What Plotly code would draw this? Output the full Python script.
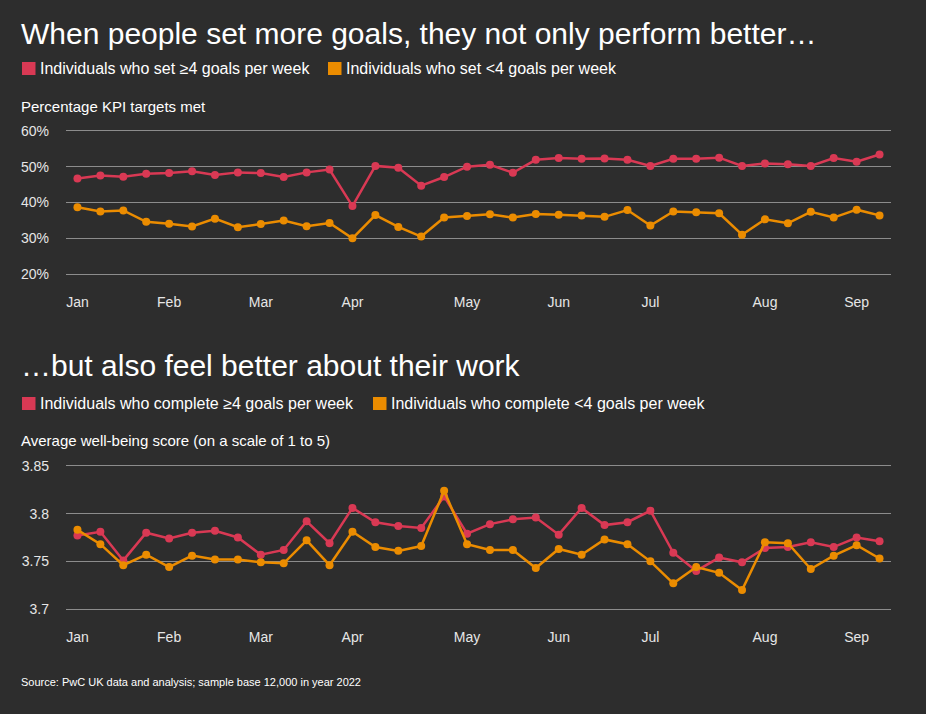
import plotly.graph_objects as go

# weekly points, Jan -> early Sep 2022
weeks = list(range(36))
month_ticks = [0, 4, 8, 12, 17, 21, 25, 30, 34]
month_labels = ["Jan", "Feb", "Mar", "Apr", "May", "Jun", "Jul", "Aug", "Sep"]

kpi_high = [46.7, 47.5, 47.2, 48.0, 48.2, 48.7, 47.7, 48.4, 48.2, 47.1, 48.4, 49.2,
            39.0, 50.2, 49.7, 44.7, 47.1, 50.0, 50.5, 48.3, 51.9, 52.4, 52.2, 52.3,
            51.9, 50.2, 52.2, 52.2, 52.5, 50.2, 50.9, 50.7, 50.2, 52.4, 51.4, 53.4]
kpi_low = [38.7, 37.5, 37.8, 34.6, 34.1, 33.3, 35.5, 33.1, 34.0, 35.0, 33.4, 34.3,
           30.0, 36.5, 33.2, 30.5, 35.8, 36.2, 36.7, 35.8, 36.8, 36.6, 36.4, 36.0,
           37.9, 33.6, 37.5, 37.3, 37.0, 31.0, 35.3, 34.2, 37.4, 35.8, 38.0, 36.4]

wb_high = [3.777, 3.781, 3.751, 3.780, 3.774, 3.780, 3.782, 3.775, 3.757, 3.762, 3.792, 3.769,
           3.806, 3.791, 3.787, 3.785, 3.818, 3.779, 3.789, 3.794, 3.796, 3.778, 3.806, 3.788,
           3.791, 3.803, 3.759, 3.740, 3.754, 3.749, 3.764, 3.765, 3.770, 3.765, 3.775, 3.771]
wb_low = [3.783, 3.768, 3.746, 3.757, 3.744, 3.756, 3.752, 3.752, 3.749, 3.748, 3.772, 3.746,
          3.781, 3.765, 3.761, 3.766, 3.824, 3.768, 3.762, 3.762, 3.743, 3.763, 3.757, 3.773,
          3.768, 3.750, 3.727, 3.744, 3.738, 3.720, 3.770, 3.769, 3.742, 3.756, 3.767, 3.753]

kpi_ticks = [20, 30, 40, 50, 60]
kpi_ticktext = ["20%", "30%", "40%", "50%", "60%"]
wb_ticks = [3.7, 3.75, 3.8, 3.85]
wb_ticktext = ["3.7", "3.75", "3.8", "3.85"]

RED = "#d93954"
ORANGE = "#eb8c00"
BG = "#2d2d2d"
GRID = "#8c8c8c"
W, H = 926, 714

def px(x):
    return x / W

def py(y):
    return 1 - y / H

fig = go.Figure()

for xa, ya, hi, lo in [("x", "y", kpi_high, kpi_low), ("x2", "y2", wb_high, wb_low)]:
    fig.add_trace(go.Scatter(x=weeks, y=hi, xaxis=xa, yaxis=ya, mode="lines+markers",
                             line=dict(color=RED, width=2.5), marker=dict(size=8, color=RED),
                             cliponaxis=False, showlegend=False))
    fig.add_trace(go.Scatter(x=weeks, y=lo, xaxis=xa, yaxis=ya, mode="lines+markers",
                             line=dict(color=ORANGE, width=2.5), marker=dict(size=8, color=ORANGE),
                             cliponaxis=False, showlegend=False))

xdom = [px(66), px(891)]
xcommon = dict(domain=xdom, range=[-0.5, 35.5], tickmode="array", tickvals=month_ticks,
               ticktext=month_labels, showgrid=False, zeroline=False, showline=False,
               ticks="", ticklabelstandoff=16, tickfont=dict(size=14, color="#e6e6e6"))
ycommon = dict(showgrid=True, gridcolor=GRID, gridwidth=1, zeroline=False, showline=False,
               ticks="", ticklabelstandoff=16, tickfont=dict(size=14, color="#e6e6e6"))

# ranges padded a little so the outer gridlines are drawn
fig.update_layout(
    width=W, height=H,
    margin=dict(l=0, r=0, t=0, b=0, autoexpand=False),
    paper_bgcolor=BG, plot_bgcolor=BG,
    font=dict(family="Liberation Sans, Arial, sans-serif", color="#ffffff"),
    xaxis=dict(anchor="y", **xcommon),
    xaxis2=dict(anchor="y2", **xcommon),
    yaxis=dict(anchor="x", domain=[py(276), py(129)], range=[19.5, 60.5], tickmode="array",
               tickvals=kpi_ticks, ticktext=kpi_ticktext, **ycommon),
    yaxis2=dict(anchor="x2", domain=[py(611), py(464)], range=[3.698, 3.852], tickmode="array",
                tickvals=wb_ticks, ticktext=wb_ticktext, **ycommon),
)

def text(x, y, s, size, color="#ffffff"):
    fig.add_annotation(x=px(x), y=py(y), xref="paper", yref="paper", text=s, showarrow=False,
                       xanchor="left", yanchor="middle", font=dict(size=size, color=color))

def swatch(x, y, color):
    fig.add_shape(type="rect", xref="paper", yref="paper", x0=px(x), x1=px(x + 13.5),
                  y0=py(y + 6.5), y1=py(y - 6.5), fillcolor=color, line=dict(width=0))

text(19, 33, "When people set more goals, they not only perform better…", 30)
swatch(22, 68.5, RED)
text(37.5, 68.5, "Individuals who set ≥4 goals per week", 16)
swatch(328, 68.5, ORANGE)
text(344, 68.5, "Individuals who set <4 goals per week", 16)
text(19, 106, "Percentage KPI targets met", 15)

text(19, 366, "…but also feel better about their work", 30)
swatch(22, 403.5, RED)
text(37.5, 403.5, "Individuals who complete ≥4 goals per week", 16)
swatch(373, 403.5, ORANGE)
text(388.5, 403.5, "Individuals who complete <4 goals per week", 16)
text(19, 440, "Average well-being score (on a scale of 1 to 5)", 15)

text(19, 682, "Source: PwC UK data and analysis; sample base 12,000 in year 2022", 11)

fig.write_html("out.html", config={"displayModeBar": False},
               post_script="document.body.style.margin='0';")
